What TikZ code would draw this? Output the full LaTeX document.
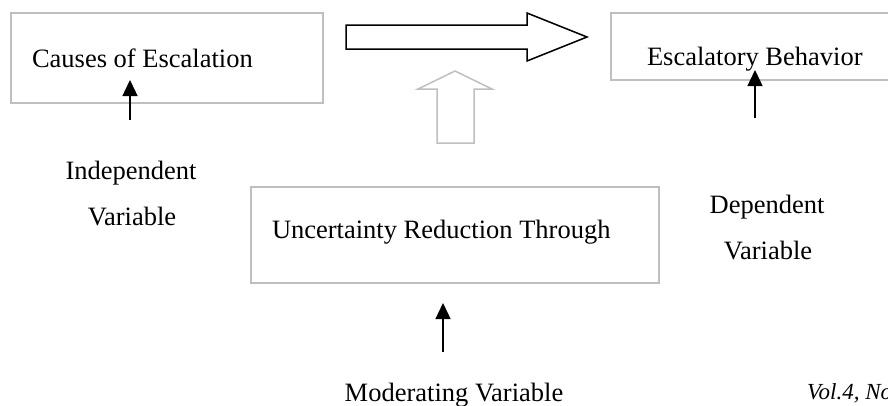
\documentclass[tikz,border=0pt]{standalone}
\usepackage{fontspec}
\setmainfont{Liberation Serif}
\usetikzlibrary{arrows.meta}
\tikzset{>={Triangle[length=16pt,width=15pt]}}
\colorlet{boxgray}{gray!50}
\tikzset{
  varbox/.style={draw=boxgray,line width=1.3pt,align=flush left,inner ysep=0pt,
    font=\fontsize{26.5}{30}\selectfont},
  lbl/.style={anchor=base,inner sep=0pt,font=\fontsize{26.5}{30}\selectfont}
}

\begin{document}
\begin{tikzpicture}[x=1pt,y=-1pt]
    \useasboundingbox (0,0) rectangle (888,405);
    % the three boxes
    \node[varbox,text width=270pt,inner xsep=21pt,minimum height=90pt] (causes) at (167,58) {Causes of Escalation};
    \node[varbox,text width=228pt,inner xsep=36pt,minimum height=67pt,text height=37pt,text depth=0pt] (behavior) at (761,46.5) {Escalatory Behavior};
    \node[varbox,text width=366pt,inner xsep=21pt,minimum height=96pt,text height=18pt,text depth=12pt] (uncert) at (455,235) {Uncertainty Reduction Through};
    % block arrows
    \draw[line width=1.5pt,fill=white] (346,25) -- (527,25) -- (527,13) -- (587,37) -- (527,61) -- (527,49) -- (346,49) -- cycle;
    \draw[line width=1.5pt,draw=boxgray] (437,143) -- (437,89) -- (418,89) -- (455,71) -- (492,89) -- (474,89) -- (474,143) -- cycle;
    % variable labels
    \foreach \x/\y/\t [count=\i] in {131/179/Independent, 132/225/Variable, 767/213/Dependent, 768/259/Variable, 454/401/Moderating Variable} {
      \node[lbl] (lbl\i) at (\x,\y) {\t};
    }
    \node[anchor=base west,inner sep=0pt,font=\fontsize{23}{26}\selectfont\itshape] (vol) at (807,399) {Vol.4, No};
    % small arrows
    \coordinate (ivtail) at (130,120);  \coordinate (ivtip) at (130,80);
    \coordinate (dvtail) at (755,118);  \coordinate (dvtip) at (755,70);
    \coordinate (mvtail) at (443,352);  \coordinate (mvtip) at (443,303);
    \foreach \a in {iv,dv,mv} {
      \draw[->,line width=1.4pt] (\a tail) -- (\a tip);
    }
\end{tikzpicture}
\end{document}
